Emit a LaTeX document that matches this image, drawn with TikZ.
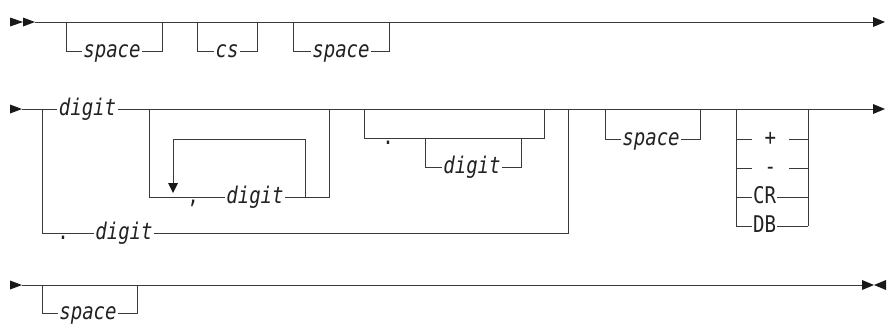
\documentclass[tikz,border=0pt]{standalone}
\usepackage{fontspec}
\newfontfamily\rrfont[FakeStretch=0.83]{DejaVu Sans Mono}
\definecolor{linec}{HTML}{3A3A3A}
\definecolor{textc}{HTML}{222222}
\tikzset{
  rr/.style={line width=0.9pt, draw=linec},
  lbl/.style={font=\rrfont\fontsize{23}{23}\selectfont\itshape, text=textc, fill=white, inner xsep=1.5pt, inner ysep=1pt, anchor=base},
  lit/.style={font=\rrfont\fontsize{23}{23}\selectfont, text=textc, fill=white, inner xsep=1pt, inner ysep=1pt, anchor=base},
  tip/.style={fill=black!90, draw=none}
}
\begin{document}
\begin{tikzpicture}[x=1pt,y=-1pt]
\useasboundingbox (0,0) rectangle (894,324);
% ---------- row 1 ----------
\coordinate (r1s) at (35,22);
\coordinate (r1e) at (873,22);
\fill[tip] (10,17.5) -- (23,22) -- (10,26.5) -- cycle;
\fill[tip] (23,17.5) -- (35,22) -- (23,26.5) -- cycle;
\draw[rr] (r1s) -- (r1e);
\fill[tip] (873,17) -- (885,22) -- (873,27) -- cycle;
\coordinate (a1) at (66,22); \coordinate (a2) at (162,51);
\draw[rr] (a1) |- (a2) -- (162,22);
\node[lbl] (sp1) at (112,57.5) {space};
\coordinate (b1) at (197,22); \coordinate (b2) at (257,51);
\draw[rr] (b1) |- (b2) -- (257,22);
\node[lbl] (cs) at (227,57.5) {cs};
\coordinate (c1) at (293,22); \coordinate (c2) at (389,51);
\draw[rr] (c1) |- (c2) -- (389,22);
\node[lbl] (sp2) at (341,57.5) {space};
% ---------- row 2 ----------
\coordinate (r2s) at (22,109);
\coordinate (r2e) at (873,109);
\fill[tip] (10,104.5) -- (22,109) -- (10,113.5) -- cycle;
\draw[rr] (r2s) -- (r2e);
\fill[tip] (873,104) -- (885,109) -- (873,114) -- cycle;
% big choice: digit / . digit
\coordinate (d1) at (42,109); \coordinate (d2) at (568,233);
\draw[rr] (d1) |- (d2) -- (568,109);
\node[lbl] (dg1) at (87.5,115.5) {digit};
\node[lit] (pt1) at (63,239.5) {.};
\node[lbl] (dg2) at (124,239.5) {digit};
% repeat group , digit
\coordinate (e1) at (149,109); \coordinate (e2) at (329,197);
\draw[rr] (e1) |- (e2) -- (329,109);
\coordinate (f1) at (305,197); \coordinate (f2) at (173,139);
\draw[rr] (f1) |- (f2) -- (173,184);
\fill[tip] (168,183) -- (178,183) -- (173,193) -- cycle;
\node[lit] (cm) at (193,203.5) {,};
\node[lbl] (dg3) at (255,203.5) {digit};
% decimal part
\coordinate (g1) at (364,109); \coordinate (g2) at (544,138);
\draw[rr] (g1) |- (g2) -- (544,109);
\node[lit] (pt2) at (388,144.5) {.};
\coordinate (h1) at (425,138); \coordinate (h2) at (521,167);
\draw[rr] (h1) |- (h2) -- (521,138);
\node[lbl] (dg4) at (472,173.5) {digit};
% space
\coordinate (k1) at (605,109); \coordinate (k2) at (700,139);
\draw[rr] (k1) |- (k2) -- (700,109);
\node[lbl] (sp3) at (651,145.5) {space};
% signs
\coordinate (s1) at (736,109); \coordinate (s2) at (808,109);
\draw[rr] (s1) -- (736,226);
\draw[rr] (s2) -- (808,226);
\foreach \yy in {139,168,197,226} {\draw[rr] (736,\yy) -- (808,\yy);}
\node[lit, anchor=base west] (plus) at (752,145.5) {\hphantom{0}+\hphantom{0}};
\node[lit, anchor=base west] (minus) at (752,174.5) {\hphantom{0}-\hphantom{0}};
\node[lit, anchor=base west] (cr) at (752,203.5) {CR};
\node[lit, anchor=base west] (db) at (752,232.5) {DB};
% ---------- row 3 ----------
\coordinate (r3s) at (22,285);
\coordinate (r3e) at (862,285);
\fill[tip] (10,280.5) -- (22,285) -- (10,289.5) -- cycle;
\draw[rr] (r3s) -- (r3e);
\fill[tip] (862,280) -- (874,285) -- (862,290) -- cycle;
\fill[tip] (886,280) -- (874,285) -- (886,290) -- cycle;
\coordinate (m1) at (42,285); \coordinate (m2) at (137,313);
\draw[rr] (m1) |- (m2) -- (137,285);
\node[lbl] (sp4) at (88,319) {space};
\end{tikzpicture}
\end{document}
